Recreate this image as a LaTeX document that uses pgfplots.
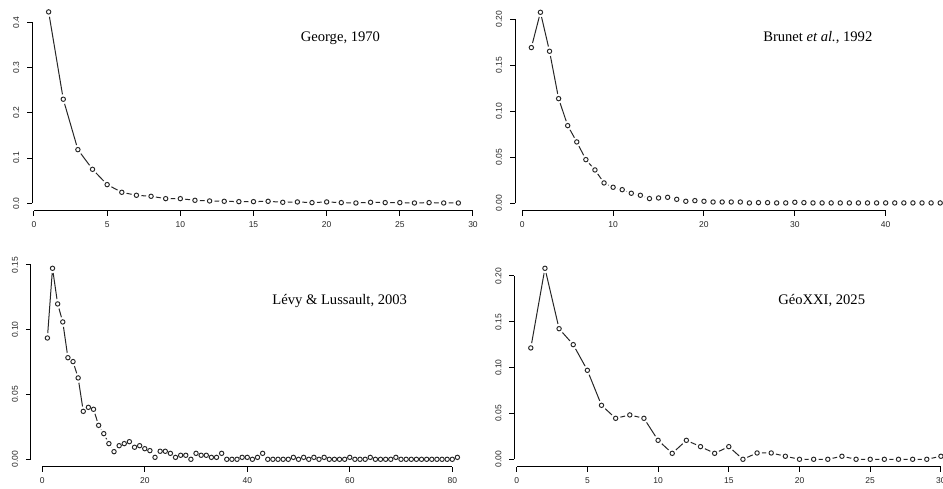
\documentclass[border=0pt]{standalone}
\usepackage{fontspec}
\setmainfont{Liberation Sans}
\newfontfamily\titleserif{Liberation Serif}
\usepackage{pgfplots}
\usepackage{pgfplotstable}
\pgfplotsset{compat=1.18}

\newcommand{\titlefont}{\titleserif\fontsize{14.6}{16}\selectfont}

\pgfplotstableread{
x y
1 0.423
2 0.230
3 0.1186
4 0.0751
5 0.0413
6 0.0243
7 0.0177
8 0.0155
9 0.0103
10 0.0103
11 0.0066
12 0.0052
13 0.0044
14 0.0037
15 0.0037
16 0.0044
17 0.0022
18 0.0030
19 0.0015
20 0.0030
21 0.0015
22 0.0007
23 0.0022
24 0.0015
25 0.0015
26 0.0007
27 0.0015
28 0.0007
29 0.0007
}\george

\pgfplotstableread{
x y
1 0.169
2 0.2073
3 0.165
4 0.1136
5 0.0843
6 0.0666
7 0.0474
8 0.0362
9 0.0221
10 0.0174
11 0.0148
12 0.0109
13 0.0087
14 0.0051
15 0.0058
16 0.0065
17 0.0043
18 0.0022
19 0.0029
20 0.0022
21 0.0014
22 0.0014
23 0.0014
24 0.0014
25 0.0004
26 0.0007
27 0.0007
28 0.0004
29 0.0004
30 0.0011
31 0.0007
32 0.0004
33 0.0004
34 0.0004
35 0.0004
36 0.0004
37 0.0004
38 0.0004
39 0.0004
40 0.0004
41 0.0004
42 0.0004
43 0.0004
44 0.0004
45 0.0004
46 0.0004
}\brunet

\pgfplotstableread{
x y
1 0.0936
2 0.1474
3 0.1199
4 0.1060
5 0.0784
6 0.0754
7 0.0628
8 0.0370
9 0.0401
10 0.0386
11 0.0262
12 0.0198
13 0.0121
14 0.0059
15 0.0105
16 0.0121
17 0.0136
18 0.0093
19 0.0105
20 0.0082
21 0.0067
22 0.0015
23 0.0062
24 0.0062
25 0.0046
26 0.0015
27 0.0031
28 0.0031
29 0.0000
30 0.0046
31 0.0031
32 0.0031
33 0.0015
34 0.0015
35 0.0046
36 0
37 0
38 0
39 0.0015
40 0.0015
41 0
42 0.0015
43 0.0046
44 0
45 0
46 0
47 0
48 0
49 0.0015
50 0
51 0.0015
52 0
53 0.0015
54 0
55 0.0015
56 0
57 0
58 0
59 0
60 0.0015
61 0
62 0
63 0
64 0.0015
65 0
66 0
67 0
68 0
69 0.0015
70 0
71 0
72 0
73 0
74 0
75 0
76 0
77 0
78 0
79 0
80 0
81 0.0015
}\levy

\pgfplotstableread{
x y
1 0.1215
2 0.2084
3 0.1425
4 0.1251
5 0.0971
6 0.0589
7 0.0447
8 0.0484
9 0.0447
10 0.0207
11 0.0065
12 0.0207
13 0.0138
14 0.0065
15 0.0138
16 0
17 0.0069
18 0.0069
19 0.0033
20 0
21 0
22 0
23 0.0033
24 0
25 0
26 0
27 0
28 0
29 0
30 0.0033
}\geoxxi

\pgfplotsset{
  rpanel/.style={
    scale only axis, anchor=south west, clip=false,
    axis x line*=bottom, axis y line*=left,
    axis line style={draw=none},
    tick align=outside, major tick length=5pt,
    tick style={black, line width=1pt},
    tick label style={font=\fontsize{8.5}{10}\selectfont, text=black!85, inner sep=0pt},
    xticklabel style={anchor=north},
    yticklabel style={rotate=90, anchor=south},
    xticklabel shift=5.4pt, yticklabel shift=7.8pt,
    /pgf/number format/assume math mode=true,
    y tick label style={/pgf/number format/.cd, fixed, fixed zerofill},
  },
  rline/.style={black!85, line width=1pt, no marks},
  rhalo/.style={only marks, mark=*, mark size=4.8pt, mark options={draw=white, fill=white}},
  rpts/.style={only marks, mark=o, mark size=2.2pt, mark options={black!85, line width=0.95pt}},
}

\begin{document}
\begin{tikzpicture}
% George, 1970
\begin{axis}[rpanel, at={(32.24pt,278.05pt)}, width=442.5pt, height=206.6pt,
  xmin=-0.12, xmax=30.12, ymin=-0.0169, ymax=0.4397,
  xtick={0,5,...,30}, ytick={0,0.1,0.2,0.3,0.4},
  y tick label style={/pgf/number format/precision=1}]
  \addplot[rline] table {\george};
  \addplot[rhalo] table {\george};
  \addplot[rpts] table {\george};
  \draw[black, line width=1pt] (axis cs:0,-0.0169) -- (axis cs:30,-0.0169);
  \draw[black, line width=1pt] (axis cs:-0.12,0) -- (axis cs:-0.12,0.4);
\end{axis}
% Brunet et al., 1992
\begin{axis}[rpanel, at={(515.0pt,278.05pt)}, width=428.0pt, height=206.3pt,
  xmin=-0.8, xmax=46.31, ymin=-0.0083, ymax=0.2156,
  xtick={0,10,...,40}, ytick={0,0.05,0.1,0.15,0.2},
  y tick label style={/pgf/number format/precision=2}]
  \addplot[rline] table {\brunet};
  \addplot[rhalo] table {\brunet};
  \addplot[rpts] table {\brunet};
  \draw[black, line width=1pt] (axis cs:0,-0.0083) -- (axis cs:40,-0.0083);
  \draw[black, line width=1pt] (axis cs:-0.8,0) -- (axis cs:-0.8,0.2);
\end{axis}
% Levy & Lussault, 2003
\begin{axis}[rpanel, at={(31.0pt,22.05pt)}, width=442.8pt, height=206.3pt,
  xmin=-2.2, xmax=84.2, ymin=-0.0059, ymax=0.1533,
  xtick={0,20,...,80}, ytick={0,0.05,0.1,0.15},
  y tick label style={/pgf/number format/precision=2}]
  \addplot[rline] table {\levy};
  \addplot[rhalo] table {\levy};
  \addplot[rpts] table {\levy};
  \draw[black, line width=1pt] (axis cs:0,-0.0059) -- (axis cs:80,-0.0059);
  \draw[black, line width=1pt] (axis cs:-2.2,0) -- (axis cs:-2.2,0.15);
\end{axis}
% GeoXXI, 2025
\begin{axis}[rpanel, at={(514.4pt,22.1pt)}, width=428.5pt, height=206.2pt,
  xmin=-0.16, xmax=30.14, ymin=-0.0083, ymax=0.2167,
  xtick={0,5,...,30}, ytick={0,0.05,0.1,0.15,0.2},
  y tick label style={/pgf/number format/precision=2}]
  \addplot[rline] table {\geoxxi};
  \addplot[rhalo] table {\geoxxi};
  \addplot[rpts] table {\geoxxi};
  \draw[black, line width=1pt] (axis cs:0,-0.0083) -- (axis cs:30,-0.0083);
  \draw[black, line width=1pt] (axis cs:-0.16,0) -- (axis cs:-0.16,0.2);
\end{axis}
\node[anchor=base, inner sep=0pt] at (340.4pt,447.3pt) {\titlefont George, 1970};
\node[anchor=base, inner sep=0pt] at (817.8pt,447.3pt) {\titlefont Brunet \textit{et al.}, 1992};
\node[anchor=base, inner sep=0pt] at (339.7pt,184pt) {\titlefont Lévy \& Lussault, 2003};
\node[anchor=base, inner sep=0pt] at (821.7pt,184pt) {\titlefont GéoXXI, 2025};
\pgfresetboundingbox
\useasboundingbox (0pt,0pt) rectangle (943pt,489pt);
\end{tikzpicture}
\end{document}
